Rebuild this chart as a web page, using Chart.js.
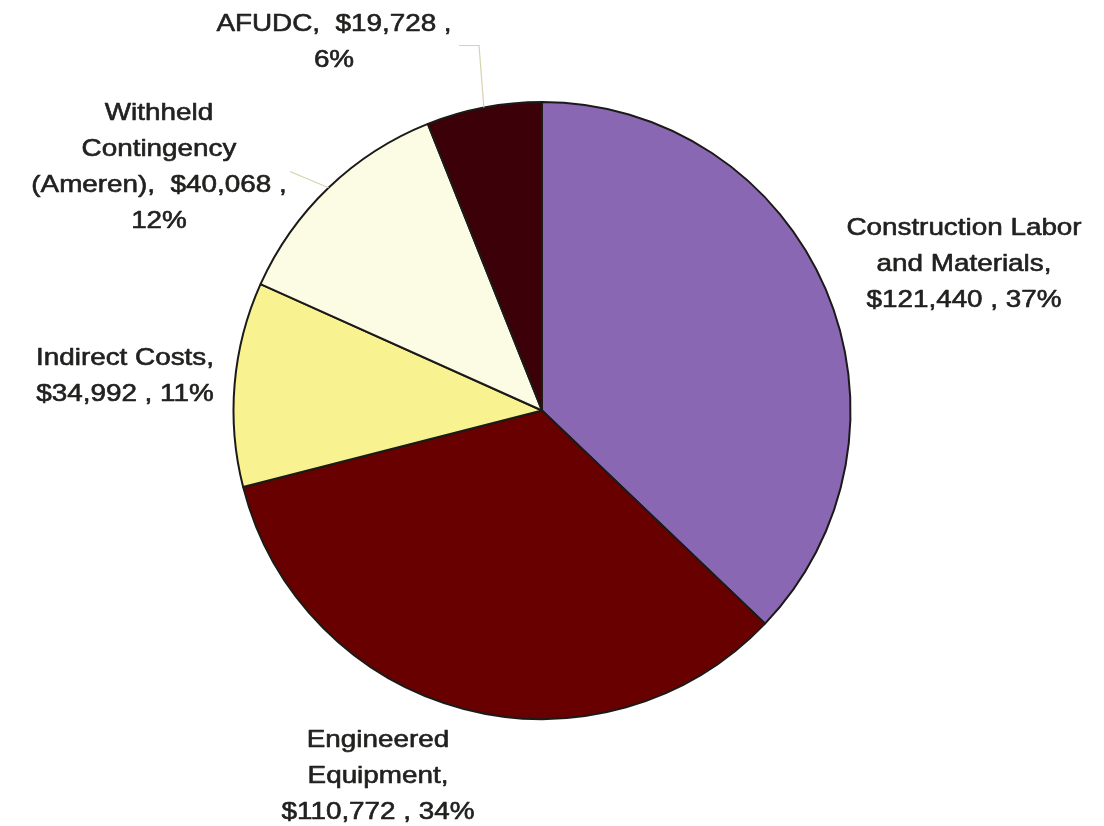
<!DOCTYPE html>
<html>
<head>
<meta charset="utf-8">
<title>Project cost breakdown</title>
<script src="https://cdn.jsdelivr.net/npm/chart.js@4"></script>
<style>
  html, body { margin: 0; padding: 0; background: #ffffff; }
  #wrap { width: 1104px; height: 826px; }
</style>
</head>
<body>
<div id="wrap"><canvas id="pie" width="1104" height="826"></canvas></div>
<script>
// Cost components (thousands of dollars), clockwise from 12 o'clock
const categories = [
  ['Construction Labor', 'and Materials'],
  ['Engineered', 'Equipment'],
  ['Indirect Costs'],
  ['Withheld', 'Contingency', '(Ameren)'],
  ['AFUDC']
];
const values = [121440, 110772, 34992, 40068, 19728];
const sliceColors = ['#8a67b2', '#690000', '#f8f290', '#fcfbe4', '#3b0008'];

// Label layout: whether the dollar amount continues the last name line,
// and whether the percentage continues the dollar line.
const valueInline = [false, false, false, true, true];
const pctInline = [true, true, true, false, false];
// Label block centres, relative to the pie centre
const labelOffsets = [[422, -146], [-164, 366], [-417, -34], [-383, -243], [-208, -368]];
// Elbow points for leader lines (relative to pie centre); the line ends on the slice rim
const leaders = [null, null, null, [[-252, -239]], [[-83, -365], [-63, -365]]];

const total = values.reduce((a, b) => a + b, 0);
const money = v => '$' + v.toLocaleString('en-US');

function labelLines(i) {
  const name = categories[i].slice();
  name[name.length - 1] += ',';
  const pct = Math.round(values[i] / total * 100) + '%';
  const lines = name.slice();
  let valueText = money(values[i]) + ' ,';
  if (pctInline[i]) valueText += ' ' + pct;
  if (valueInline[i]) lines[lines.length - 1] += '  ' + valueText;
  else lines.push(valueText);
  if (!pctInline[i]) lines.push(pct);
  return lines;
}

const sliceLabels = {
  id: 'sliceLabels',
  afterDatasetsDraw(chart, args, opts) {
    const ctx = chart.ctx;
    const meta = chart.getDatasetMeta(0);
    meta.data.forEach((arc, i) => {
      const p = arc.getProps(['x', 'y', 'startAngle', 'endAngle', 'outerRadius'], true);
      const mid = (p.startAngle + p.endAngle) / 2;
      const rimX = p.x + Math.cos(mid) * p.outerRadius;
      const rimY = p.y + Math.sin(mid) * p.outerRadius;

      // leader line
      const pts = opts.leaders[i];
      if (pts) {
        ctx.save();
        ctx.strokeStyle = opts.leaderColor;
        ctx.lineWidth = 1.2;
        ctx.beginPath();
        pts.forEach((q, k) => {
          const lx = p.x + q[0], ly = p.y + q[1];
          if (k === 0) ctx.moveTo(lx, ly); else ctx.lineTo(lx, ly);
        });
        ctx.lineTo(rimX, rimY);
        ctx.stroke();
        ctx.restore();
      }

      // label text
      const lines = labelLines(i);
      const cx = p.x + opts.offsets[i][0];
      const cy = p.y + opts.offsets[i][1];
      const top = cy - (lines.length - 1) * opts.lineHeight / 2;
      ctx.save();
      ctx.fillStyle = opts.color;
      ctx.strokeStyle = opts.color;
      ctx.lineWidth = 0.6;
      ctx.lineJoin = 'round';
      ctx.font = opts.font;
      ctx.textAlign = 'center';
      ctx.textBaseline = 'middle';
      lines.forEach((t, k) => {
        ctx.save();
        ctx.translate(cx, top + k * opts.lineHeight);
        ctx.scale(opts.stretch, 1);
        ctx.fillText(t, 0, 0);
        ctx.strokeText(t, 0, 0);
        ctx.restore();
      });
      ctx.restore();
    });
  }
};

new Chart(document.getElementById('pie'), {
  type: 'pie',
  data: {
    labels: categories,
    datasets: [{
      data: values,
      backgroundColor: sliceColors,
      borderColor: '#1c1a18',
      borderWidth: 2,
      borderAlign: 'center'
    }]
  },
  options: {
    responsive: false,
    animation: false,
    devicePixelRatio: 1,
    rotation: 0,
    layout: { padding: { top: 101, bottom: 106, left: 4, right: 24 } },
    plugins: {
      legend: { display: false },
      tooltip: { enabled: false },
      sliceLabels: {
        offsets: labelOffsets,
        leaders: leaders,
        leaderColor: '#d6d2ae',
        font: '24px "Liberation Sans", Arial, sans-serif',
        color: '#222120',
        lineHeight: 36,
        stretch: 1.16
      }
    }
  },
  plugins: [sliceLabels]
});
</script>
</body>
</html>
